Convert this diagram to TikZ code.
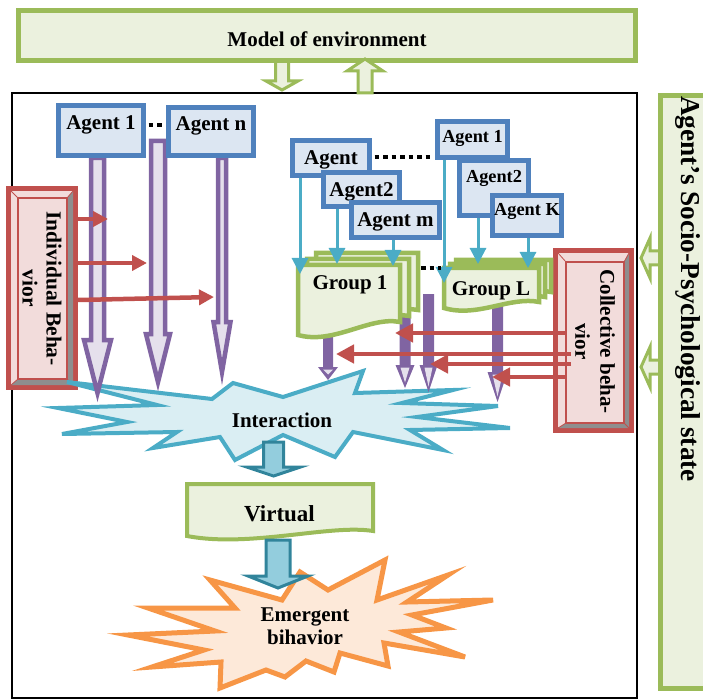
\documentclass[tikz,border=0pt]{standalone}
\usepackage{fontspec}
\setmainfont{Liberation Serif}
\usetikzlibrary{arrows.meta,calc}

\definecolor{grn}{HTML}{9BBB59}
\definecolor{grnfill}{HTML}{EBF1DE}
\definecolor{blu}{HTML}{4F81BD}
\definecolor{blufill}{HTML}{DCE6F2}
\definecolor{pur}{HTML}{8064A2}
\definecolor{purfill}{HTML}{E5E0EC}
\definecolor{rd}{HTML}{C0504D}
\definecolor{rdfill}{HTML}{F2DCDB}
\definecolor{cyn}{HTML}{4BACC6}
\definecolor{cynfill}{HTML}{DAEEF3}
\definecolor{tl}{HTML}{31849B}
\definecolor{tlfill}{HTML}{93CDDD}
\definecolor{org}{HTML}{F79646}
\definecolor{orgfill}{HTML}{FDE9D9}
\definecolor{bevelgray}{HTML}{8E8E8E}

% vertical block arrow: start, shaft length, head length, shaft half width, head half width, style
\newcommand\DownArrow[6]{%
  \path[#6] (#1) ++({-(#4)},0) -- ++(0,{#2}) -- ++({(#4)-(#5)},0) -- ++({#5},{#3})
    -- ++({#5},{-(#3)}) -- ++({(#4)-(#5)},0) -- ++(0,{-(#2)}) -- cycle;}
% solid purple block arrow with a light inner triangle in its head
\newcommand\SolidDown[5]{%
  \DownArrow{#1}{#2}{#3}{#4}{#5}{fill=pur}
  \path[fill=purfill] (#1) ++({-(#5)+5},{(#2)+2.5}) -- ++({2*(#5)-10},0) -- ++({-(#5)+5},{(#3)-8}) -- cycle;}
% left-pointing block arrow: right end centre, shaft length, head length, shaft half, head half, style
\newcommand\LeftArrow[6]{%
  \path[#6] (#1) ++(0,{-(#4)}) -- ++({-(#2)},0) -- ++(0,{(#4)-(#5)}) -- ++({-(#3)},{#5})
    -- ++({#3},{#5}) -- ++(0,{(#4)-(#5)}) -- ++({#2},0) -- cycle;}
% document shape: x left, x right, top, bottom at left, bottom at right
\newcommand\DocShape[5]{%
  \path[grnshape] (#1,#3) -- (#2,#3) -- (#2,#5)
    .. controls ({#2-0.3*(#2-#1)},{#5-6}) and ({#1+0.35*(#2-#1)},{#4+10}) .. (#1,#4) -- cycle;}
% bevel details: outer inner edge x1 y1 x2 y2, inner rectangle x1 y1 x2 y2
\newcommand\Bevel[8]{%
  \fill[bevelgray] (#7,#6) -- (#3,#2) -- (#3,#4) -- (#7,#8) -- cycle;
  \fill[bevelgray] (#5,#8) -- (#1,#4) -- (#3,#4) -- (#7,#8) -- cycle;
  \draw[rd, line width=0.8pt] (#1,#2) -- (#5,#6) (#3,#2) -- (#7,#6) (#1,#4) -- (#5,#8) (#3,#4) -- (#7,#8);
  \draw[rd, line width=2.5pt] (#5,#6) rectangle (#7,#8);}

\begin{document}
\begin{tikzpicture}[x=1pt, y=-1pt, line join=miter,
  txt/.style={font=\fontsize{21}{24}\selectfont\bfseries, inner sep=0pt},
  capmid/.style={text height=15pt, text depth=1pt},
  agentbox/.style={draw=blu, fill=blufill, line width=5pt, inner sep=0pt, txt, capmid},
  smallagent/.style={agentbox, font=\fontsize{18.3}{21}\selectfont\bfseries, text height=13pt, text depth=1pt},
  grnshape/.style={draw=grn, fill=grnfill, line width=4.5pt},
  grnarrow/.style={draw=grn, fill=grnfill, line width=3pt},
  purhollow/.style={draw=pur, fill=purfill, line width=4.5pt},
  tlarrow/.style={draw=tl, fill=tlfill, line width=3pt},
  redarr/.style={draw=rd, line width=4.5pt, -{Triangle[length=#1,width=#1]}},
  redarr/.default=16pt,
  cynarr/.style={draw=cyn, line width=3pt, -{Triangle[length=16pt,width=16pt]}},
  dots/.style={line width=4.5pt, dash pattern=on 4.5pt off 4pt},
  bevelbox/.style={draw=rd, fill=rdfill, line width=5pt, inner sep=0pt}]

\useasboundingbox (0,0) rectangle (703,700);
\clip (0,0) rectangle (703,700);

% outer frame
\node[draw, line width=1.5pt, minimum width=625pt, minimum height=605pt, inner sep=0pt] (frame) at (324.5,395.5) {};

% model of environment and its two links
\DownArrow{282,60}{21}{9}{6.5}{16}{grnarrow}
\node[draw=grn, fill=grnfill, line width=5pt, minimum width=617pt, minimum height=50pt,
      txt, text height=22pt, text depth=0pt] (model) at (327,35.5) {Model of environment};
\DownArrow{365,93}{-22}{-12}{7}{18}{grnarrow}

% socio-psychological state panel
\LeftArrow{661,258}{11}{9}{7}{20}{grnarrow}
\LeftArrow{661,367}{11}{9}{7}{20}{grnarrow}
\node[draw=grn, fill=grnfill, line width=5pt, minimum width=57pt, minimum height=593pt, inner sep=0pt] (statebox) at (689,392) {};
\node[rotate=-90, anchor=west, inner sep=0pt, font=\fontsize{27.3}{31}\selectfont\bfseries] (statetxt) at (688,96) {Agent’s Socio-Psychological state};

% behaviour boxes
\node[bevelbox, minimum width=67pt, minimum height=199pt] (indiv) at (42,288) {};
\Bevel{11}{191}{73}{385}{18}{198}{67}{379}
\node[rotate=-90, align=center, font=\fontsize{21.5}{24}\selectfont\bfseries, inner sep=0pt] (indivtxt) at (42,288.5) {Individual Beha-\\vior};

\node[bevelbox, minimum width=76pt, minimum height=180pt] (coll) at (593.5,340.5) {};
\Bevel{558}{253}{629}{428}{566}{262}{624}{423}
\node[rotate=-90, align=center, font=\fontsize{21}{25}\selectfont\bfseries, inner sep=0pt] (colltxt) at (595,341.5) {Collective beha-\\vior};

% interaction burst
\path[draw=cyn, fill=cynfill, line width=4pt] (67,382) -- (212,399) -- (233,383) -- (283,397) -- (363,371)
  -- (355,393) -- (453,390) -- (402,403) -- (498,406) -- (417,417) -- (510,428) -- (410,430) -- (443,450)
  -- (353,432) -- (335,457) -- (283,435) -- (235,460) -- (220,437) -- (153,448) -- (177,432) -- (62,434)
  -- (127,422) -- (58,408) -- (157,405) -- cycle;
\node[txt, anchor=base] (inter) at (282,427.5) {Interaction};

% virtual document
\path[grnshape, line width=4pt] (187,484) -- (373,484) -- (373,531) .. controls (330,524) and (250,548) .. (187,536) -- cycle;
\node[inner sep=0pt, anchor=base, font=\fontsize{23}{26}\selectfont\bfseries] (virt) at (279.5,521.5) {Virtual};

% emergent behaviour burst
\path[draw=org, fill=orgfill, line width=5pt] (210,580) -- (282,600) -- (300,572) -- (328,590) -- (385,560)
  -- (377,600) -- (448,575) -- (407,602) -- (493,600) -- (412,615) -- (446,628) -- (399,632) -- (465,657)
  -- (384,643) -- (388,666) -- (340,653) -- (334,672) -- (306,661) -- (285,677) -- (266,670) -- (220,688)
  -- (221,662) -- (152,667) -- (204,650) -- (128,635) -- (215,631) -- (148,608) -- (235,608) -- cycle;
\node[align=center, inner sep=0pt, font=\fontsize{21}{23.3}\selectfont\bfseries] (emer) at (305,626.5) {Emergent\\bihavior};

% flow arrows between interaction, virtual and emergent behaviour
\DownArrow{273.5,442}{25}{9}{10}{27}{tlarrow}
\DownArrow{278,540}{36}{12}{12}{30}{tlarrow}

% individual agents feeding the interaction
\DownArrow{97.5,158}{182}{53}{6.5}{13.5}{purhollow}
\DownArrow{158,141}{193}{48}{7}{12}{purhollow}
\DownArrow{222,158}{164}{50}{4}{8.5}{purhollow}

% groups feeding the interaction
\SolidDown{328,335}{32}{13}{5}{10}
\SolidDown{405,316}{49}{23}{5.5}{9.5}
\SolidDown{428.5,294}{71}{27}{5.5}{9}
\SolidDown{497.5,304}{68}{30}{5.5}{10}

% group 1 and group L stacks
\DocShape{316}{418}{253}{323}{310}
\DocShape{307}{409}{259}{329}{316}
\DocShape{298}{400}{265}{335}{322}
\node[txt, anchor=base] (g1) at (350,289) {Group 1};
\DocShape{456}{551}{260}{297}{292}
\DocShape{450}{545}{264}{302}{297}
\DocShape{444}{539}{268}{308}{302}
\node[txt, anchor=base] (gL) at (491,295) {Group L};

% arrow ends on the groups and ellipsis positions
\coordinate (ca1) at (300,274);
\coordinate (ca2) at (337,264);
\coordinate (ca3) at (393,266);
\coordinate (cb1) at (444,283);
\coordinate (cb2) at (478,264);
\coordinate (cb3) at (528,268);
\coordinate (d1) at (0,125);
\coordinate (d2) at (0,157);
\coordinate (d3a) at (421,268);
\coordinate (d3b) at (441,268);

% agent boxes
\node[agentbox, minimum width=85pt, minimum height=50pt, text height=15pt, text depth=17pt] (ag1) at (101,130.5) {Agent 1};
\node[agentbox, minimum width=85pt, minimum height=48pt, text height=15pt, text depth=17pt] (agn) at (211,131.5) {Agent n};
\node[agentbox, minimum width=77pt, minimum height=35pt] (ga) at (331,158) {Agent};
\node[agentbox, minimum width=76pt, minimum height=34pt] (ga2) at (361.5,189.5) {Agent2};
\node[agentbox, minimum width=88pt, minimum height=35pt] (gam) at (395.5,220) {Agent m};
\node[smallagent, minimum width=70pt, minimum height=36pt, text depth=6pt] (gb1) at (472.5,139.5) {Agent 1};
\node[smallagent, minimum width=69pt, minimum height=55pt] (gb2) at (494,188) {};
\node[inner sep=0pt, anchor=base, font=\fontsize{18.3}{21}\selectfont\bfseries] (gb2txt) at (494,183) {Agent2};
\node[smallagent, minimum width=69pt, minimum height=40pt, text depth=12pt] (gbk) at (527,215.5) {Agent K};

% membership arrows and ellipses
\draw[cynarr] (ga.south -| ca1) -- (ca1);
\draw[cynarr] (ga2.south -| ca2) -- (ca2);
\draw[cynarr] (gam.south -| ca3) -- (ca3);
\draw[cynarr] (gb1.south -| cb1) -- (cb1);
\draw[cynarr] (gb2.south -| cb2) -- (cb2);
\draw[cynarr] (gbk.south -| cb3) -- (cb3);
\draw[dots] ([xshift=2.5pt]ag1.east |- d1) -- ([xshift=-2.5pt]agn.west |- d1);
\draw[dots] ([xshift=2.5pt]ga.east |- d2) -- ([xshift=-2.5pt]gb1.west |- d2);
\draw[dots] (d3a) -- (d3b);

% individual behaviour influences
\coordinate (ri1) at (108,219);
\coordinate (ri2) at (147,263);
\coordinate (ri3) at (214,297);
\draw[redarr=15pt] (indiv.east |- ri1) -- (ri1);
\draw[redarr=15pt] (indiv.east |- ri2) -- (ri2);
\draw[redarr=15pt] ([yshift=-3pt]indiv.east |- ri3) -- (ri3);

% collective behaviour influences
\coordinate (rc1) at (395,333);
\coordinate (rc2) at (336,354);
\coordinate (rc3) at (430,364);
\coordinate (rc4) at (492,377);
\draw[redarr=18pt] ([xshift=13pt]coll.west |- rc1) -- (rc1);
\draw[redarr=18pt] ([xshift=18pt]coll.west |- rc2) -- (rc2);
\draw[redarr=18pt] ([xshift=18pt]coll.west |- rc3) -- (rc3);
\draw[redarr=18pt] ([xshift=13pt]coll.west |- rc4) -- (rc4);

\end{tikzpicture}
\end{document}
